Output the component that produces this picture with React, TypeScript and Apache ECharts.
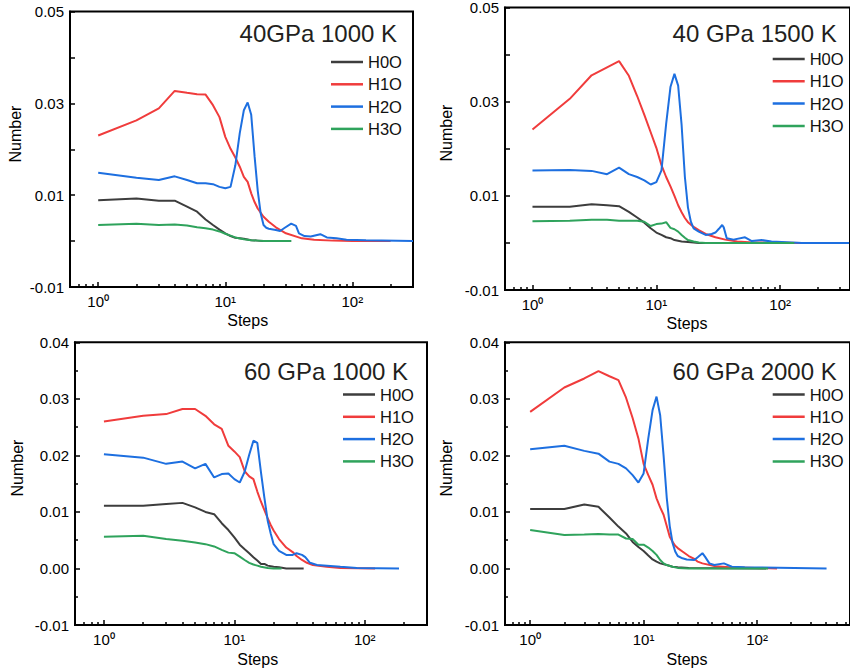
import React, { useEffect, useRef } from 'react';
import * as echarts from 'echarts';

// ---------- data ----------
const SERIES_NAMES = ['H0O', 'H1O', 'H2O', 'H3O'];
const PANEL_TITLES = ['40GPa 1000 K', '40 GPa 1500 K', '60 GPa 1000 K', '60 GPa 2000 K'];

// Panel 1: 40GPa 1000 K
const P1_H0O_STEPS = [1, 2, 3, 4, 5, 6, 7, 8, 9, 10, 11, 12, 14, 16, 18, 20, 25, 33];
const P1_H0O = [0.0089, 0.0093, 0.0088, 0.0088, 0.0075, 0.0064, 0.0047, 0.0035, 0.0025, 0.0017, 0.0011, 0.0007, 0.0005, 0.0002, 0.0001, 0, 0, 0];
const P1_H1O_STEPS = [1, 2, 3, 4, 5, 6, 7, 8, 9, 10, 11, 12, 13, 14, 15, 16, 17, 18, 20, 22, 25, 30, 40, 50, 70, 100, 200];
const P1_H1O = [0.0230, 0.0263, 0.0289, 0.0327, 0.0323, 0.0320, 0.0319, 0.0296, 0.0270, 0.0227, 0.0201, 0.0182, 0.0162, 0.0140, 0.0129, 0.0104, 0.0085, 0.0071, 0.0053, 0.0042, 0.0030, 0.0017, 0.0006, 0.0003, 0.0001, 0, 0];
const P1_H2O_STEPS = [1, 2, 3, 4, 5, 6, 7, 8, 9, 10, 11, 12, 13, 14, 15, 16, 17, 18, 19, 20, 21, 22, 25, 27, 29, 33, 36, 38, 42, 47, 56, 63, 75, 90, 128, 300];
const P1_H2O = [0.0149, 0.0138, 0.0133, 0.0141, 0.0133, 0.0126, 0.0126, 0.0124, 0.0118, 0.0115, 0.0118, 0.0165, 0.0235, 0.0285, 0.0302, 0.0275, 0.0185, 0.0110, 0.0060, 0.0035, 0.0029, 0.0027, 0.0024, 0.0022, 0.0028, 0.0038, 0.0033, 0.0017, 0.0011, 0.0010, 0.0015, 0.0008, 0.0006, 0.0003, 0.0002, 0];
const P1_H3O_STEPS = [1, 2, 3, 4, 5, 6, 7, 8, 9, 10, 11, 12, 14, 16, 18, 20, 25, 33];
const P1_H3O = [0.0035, 0.0038, 0.0035, 0.0036, 0.0034, 0.0030, 0.0028, 0.0025, 0.0021, 0.0016, 0.0012, 0.0008, 0.0004, 0.0002, 0.0001, 0, 0, 0];

// Panel 2: 40 GPa 1500 K
const P2_H0O_STEPS = [1, 2, 3, 4, 5, 6, 7, 8, 9, 10, 11, 12, 13, 14, 16, 18, 20, 22, 30, 60, 130];
const P2_H0O = [0.0077, 0.0077, 0.0082, 0.0080, 0.0078, 0.0066, 0.0054, 0.0043, 0.0031, 0.0022, 0.0017, 0.0012, 0.0010, 0.0006, 0.0003, 0.0002, 0.0001, 0, 0, 0, 0];
const P2_H1O_STEPS = [1, 2, 3, 4, 5, 6, 7, 8, 9, 10, 11, 12, 13, 14, 15, 16, 17, 18, 20, 22, 25, 30, 36, 45, 60, 150];
const P2_H1O = [0.0241, 0.0306, 0.0356, 0.0373, 0.0386, 0.0355, 0.0312, 0.0272, 0.0235, 0.0202, 0.0165, 0.0140, 0.0120, 0.0100, 0.0080, 0.0065, 0.0053, 0.0044, 0.0034, 0.0027, 0.0019, 0.0012, 0.0007, 0.0003, 0.0001, 0];
const P2_H2O_STEPS = [1, 2, 3, 4, 5, 6, 7, 8, 9, 10, 11, 12, 13, 14, 15, 16, 17, 18, 19, 20, 22, 25, 28, 30, 32, 34, 35, 37, 42, 52, 59, 71, 85, 150, 360];
const P2_H2O = [0.0154, 0.0155, 0.0153, 0.0146, 0.0160, 0.0146, 0.0140, 0.0133, 0.0124, 0.0129, 0.0154, 0.0253, 0.0331, 0.0359, 0.0334, 0.0250, 0.0140, 0.0075, 0.0045, 0.0031, 0.0024, 0.0017, 0.0019, 0.0022, 0.0030, 0.0038, 0.0033, 0.0010, 0.0007, 0.0012, 0.0004, 0.0006, 0.0003, 0, 0];
const P2_H3O_STEPS = [1, 2, 3, 4, 5, 6, 7, 8, 9, 10, 11, 12, 13, 14, 15, 16, 17, 18, 20, 22, 25, 40, 80, 130];
const P2_H3O = [0.0046, 0.0047, 0.0049, 0.0049, 0.0047, 0.0047, 0.0047, 0.0045, 0.0036, 0.0040, 0.0041, 0.0044, 0.0032, 0.0029, 0.0024, 0.0017, 0.0011, 0.0006, 0.0003, 0.0001, 0, 0, 0, 0];

// Panel 3: 60 GPa 1000 K
const P3_H0O_STEPS = [1, 2, 3, 4, 5, 6, 7, 8, 9, 10, 11, 12, 13, 14, 15, 16, 17, 18, 20, 22, 25, 34];
const P3_H0O = [0.0111, 0.0111, 0.0114, 0.0116, 0.0108, 0.0100, 0.0096, 0.0080, 0.0068, 0.0055, 0.0042, 0.0034, 0.0027, 0.0020, 0.0014, 0.0008, 0.0008, 0.0005, 0.0003, 0.0002, 0, 0];
const P3_H1O_STEPS = [1, 2, 3, 4, 5, 6, 7, 8, 9, 10, 11, 12, 13, 14, 15, 16, 17, 18, 19, 20, 22, 25, 28, 30, 33, 36, 40, 51, 65, 120];
const P3_H1O = [0.0260, 0.0270, 0.0273, 0.0282, 0.0282, 0.0270, 0.0255, 0.0247, 0.0217, 0.0207, 0.0197, 0.0172, 0.0163, 0.0158, 0.0136, 0.0118, 0.0103, 0.0089, 0.0077, 0.0067, 0.0052, 0.0037, 0.0029, 0.0022, 0.0015, 0.0010, 0.0006, 0.0003, 0.0001, 0];
const P3_H2O_STEPS = [1, 2, 3, 4, 5, 6, 7, 8, 9, 10, 11, 12, 13, 14, 15, 16, 17, 18, 19, 20, 22, 25, 28, 30, 33, 35, 38, 43, 65, 87, 183];
const P3_H2O = [0.0202, 0.0196, 0.0185, 0.0189, 0.0177, 0.0185, 0.0161, 0.0167, 0.0168, 0.0158, 0.0152, 0.0171, 0.0201, 0.0226, 0.0222, 0.0170, 0.0125, 0.0085, 0.0062, 0.0043, 0.0031, 0.0024, 0.0024, 0.0027, 0.0024, 0.0020, 0.0010, 0.0006, 0.0003, 0.0001, 0];
const P3_H3O_STEPS = [1, 2, 3, 4, 5, 6, 7, 8, 9, 10, 11, 12, 13, 14, 15, 16, 18, 20, 23];
const P3_H3O = [0.0056, 0.0058, 0.0052, 0.0049, 0.0046, 0.0043, 0.0039, 0.0033, 0.0028, 0.0027, 0.0021, 0.0015, 0.0010, 0.0007, 0.0005, 0.0003, 0.0001, 0, 0];

// Panel 4: 60 GPa 2000 K
const P4_H0O_STEPS = [1, 2, 3, 4, 5, 6, 7, 8, 9, 10, 11, 12, 13, 14, 16, 18, 20, 25, 120];
const P4_H0O = [0.0105, 0.0105, 0.0113, 0.0109, 0.0090, 0.0074, 0.0062, 0.0047, 0.0038, 0.0031, 0.0023, 0.0016, 0.0012, 0.0009, 0.0006, 0.0003, 0.0002, 0.0001, 0];
const P4_H1O_STEPS = [1, 2, 3, 4, 5, 6, 7, 8, 9, 10, 11, 12, 13, 14, 15, 16, 17, 18, 19, 20, 22, 25, 28, 30, 33, 43, 57, 150];
const P4_H1O = [0.0277, 0.0320, 0.0336, 0.0349, 0.0340, 0.0333, 0.0302, 0.0266, 0.0230, 0.0185, 0.0165, 0.0148, 0.0124, 0.0108, 0.0095, 0.0075, 0.0056, 0.0047, 0.0040, 0.0036, 0.0030, 0.0022, 0.0017, 0.0012, 0.0009, 0.0004, 0.0002, 0];
const P4_H2O_STEPS = [1, 2, 3, 4, 5, 6, 7, 8, 9, 10, 11, 12, 13, 14, 15, 16, 17, 18, 19, 20, 22, 24, 28, 30, 33, 35, 38, 42, 51, 60, 78, 410];
const P4_H2O = [0.0211, 0.0217, 0.0208, 0.0203, 0.0189, 0.0185, 0.0177, 0.0165, 0.0152, 0.0168, 0.0230, 0.0280, 0.0304, 0.0271, 0.0200, 0.0125, 0.0075, 0.0045, 0.0030, 0.0022, 0.0018, 0.0016, 0.0015, 0.0020, 0.0027, 0.0020, 0.0009, 0.0006, 0.0009, 0.0003, 0.0002, 0];
const P4_H3O_STEPS = [1, 2, 3, 4, 5, 6, 7, 8, 9, 10, 11, 12, 13, 14, 15, 16, 18, 20, 25, 125];
const P4_H3O = [0.0068, 0.0059, 0.0060, 0.0061, 0.0060, 0.0060, 0.0053, 0.0052, 0.0042, 0.0042, 0.0037, 0.0031, 0.0024, 0.0015, 0.0009, 0.0006, 0.0003, 0.0001, 0, 0];

// axis ticks
const X_MAJOR_TICKS = [1, 10, 100];
const X_MINOR_TICKS = [0.6, 0.7, 0.8, 0.9, 2, 3, 4, 5, 6, 7, 8, 9, 20, 30, 40, 50, 60, 70, 80, 90, 200, 300, 400, 500, 600, 700, 800, 900];
const X_MIN = 0.6;
const X_MAX = [300, 366, 300, 660];
const Y_MIN = -0.01;
const Y_MAX = [0.05, 0.05, 0.04, 0.04];

const PANEL_DATA = [
  [[P1_H0O_STEPS, P1_H0O], [P1_H1O_STEPS, P1_H1O], [P1_H2O_STEPS, P1_H2O], [P1_H3O_STEPS, P1_H3O]],
  [[P2_H0O_STEPS, P2_H0O], [P2_H1O_STEPS, P2_H1O], [P2_H2O_STEPS, P2_H2O], [P2_H3O_STEPS, P2_H3O]],
  [[P3_H0O_STEPS, P3_H0O], [P3_H1O_STEPS, P3_H1O], [P3_H2O_STEPS, P3_H2O], [P3_H3O_STEPS, P3_H3O]],
  [[P4_H0O_STEPS, P4_H0O], [P4_H1O_STEPS, P4_H1O], [P4_H2O_STEPS, P4_H2O], [P4_H3O_STEPS, P4_H3O]],
];

// ---------- layout & style ----------
const COLORS = ['#3d3d3d', '#f03c3c', '#1d6fe0', '#2fa35c'];
const FONT = '"Liberation Sans", Arial, Helvetica, sans-serif';
const SUP = ['\u2070', '\u00b9', '\u00b2', '\u00b3'];

const LAYOUT = [
  { grid: { left: 70, top: 11.5, width: 343, height: 275.5 }, title: [397, 33], legend: [326, 48.5], number: [15, 134], steps: [247.7, 320] },
  { grid: { left: 505, top: 6.7, width: 347, height: 283.3 }, title: [836.7, 33], legend: [767.7, 45.5], number: [446.7, 133], steps: [687, 323.5] },
  { grid: { left: 75, top: 342.3, width: 352, height: 282.7 }, title: [408, 371.7], legend: [338, 381], number: [17.3, 468], steps: [257.7, 659] },
  { grid: { left: 505, top: 342.3, width: 347, height: 282.7 }, title: [836.7, 371.7], legend: [767.7, 381], number: [446.7, 468], steps: [687, 659] },
];

function buildOption() {
  const grids: any[] = [];
  const xAxes: any[] = [];
  const yAxes: any[] = [];
  const series: any[] = [];
  const legends: any[] = [];
  const graphics: any[] = [];
  const black = { color: '#000', width: 2 };
  const tickStyle = { color: '#000', width: 1.5 };

  LAYOUT.forEach((L, p) => {
    grids.push({ ...L.grid, show: true, borderColor: '#000', borderWidth: 2, containLabel: false });
    const xmin = Math.log10(X_MIN);
    const xmax = Math.log10(X_MAX[p]);
    xAxes.push({
      gridIndex: p, type: 'value', position: 'bottom', min: xmin, max: xmax,
      axisLine: { show: true, onZero: false, lineStyle: black },
      axisTick: { show: true, inside: true, length: 5, lineStyle: tickStyle, customValues: X_MAJOR_TICKS.map((v) => Math.log10(v)) },
      axisLabel: {
        show: true, customValues: X_MAJOR_TICKS.map((v) => Math.log10(v)),
        formatter: (v: number) => '10' + SUP[Math.round(v)],
        fontSize: 15, color: '#000', fontFamily: FONT, margin: 7,
      },
      splitLine: { show: false },
    });
    xAxes.push({
      gridIndex: p, type: 'value', position: 'bottom', min: xmin, max: xmax,
      axisLine: { show: false, onZero: false },
      axisTick: { show: true, inside: true, length: 3, lineStyle: tickStyle, customValues: X_MINOR_TICKS.map((v) => Math.log10(v)) },
      axisLabel: { show: false },
      splitLine: { show: false },
    });
    const everyOther = p < 2;
    yAxes.push({
      gridIndex: p, type: 'value', min: Y_MIN, max: Y_MAX[p], interval: 0.01,
      axisLine: { show: true, onZero: false, lineStyle: black },
      axisTick: { show: true, inside: true, length: 5, lineStyle: tickStyle },
      minorTick: { show: !everyOther, splitNumber: 2, length: 3, lineStyle: tickStyle },
      axisLabel: {
        fontSize: 15, color: '#000', fontFamily: FONT, margin: 6,
        formatter: (v: number) => {
          const k = Math.round(v * 100);
          if (everyOther && Math.abs(k) % 2 === 0) return '';
          return (k / 100).toFixed(2);
        },
      },
      splitLine: { show: false },
    });

    PANEL_DATA[p].forEach(([steps, vals], s) => {
      series.push({
        type: 'line', name: SERIES_NAMES[s], xAxisIndex: p * 2, yAxisIndex: p,
        data: (steps as number[]).map((st, i) => [Math.log10(st), (vals as number[])[i]]),
        symbol: 'none', showSymbol: false, smooth: false,
        lineStyle: { color: COLORS[s], width: 2 }, itemStyle: { color: COLORS[s] },
        silent: true,
      });
    });

    legends.push({
      left: L.legend[0], top: L.legend[1], orient: 'vertical',
      icon: 'rect', itemWidth: 32, itemHeight: 2.5, itemGap: 5.3,
      data: SERIES_NAMES,
      textStyle: { fontSize: 16.5, color: '#111', fontFamily: FONT },
      selectedMode: false,
    });

    graphics.push({
      type: 'text', x: L.title[0], y: L.title[1],
      style: { text: PANEL_TITLES[p], align: 'right', verticalAlign: 'middle', fontSize: 24, fontFamily: FONT, fill: '#231f20' },
    });
    graphics.push({
      type: 'text', x: L.number[0], y: L.number[1], rotation: Math.PI / 2,
      style: { text: 'Number', align: 'center', verticalAlign: 'middle', fontSize: 16, fontFamily: FONT, fill: '#000' },
    });
    graphics.push({
      type: 'text', x: L.steps[0], y: L.steps[1],
      style: { text: 'Steps', align: 'center', verticalAlign: 'middle', fontSize: 16, fontFamily: FONT, fill: '#000' },
    });
  });

  return {
    animation: false,
    backgroundColor: '#fff',
    grid: grids,
    xAxis: xAxes,
    yAxis: yAxes,
    series,
    legend: legends,
    graphic: graphics,
  };
}

export default function App() {
  const ref = useRef<HTMLDivElement>(null);
  useEffect(() => {
    if (!ref.current) return;
    const chart = echarts.init(ref.current, null, { renderer: 'svg' });
    chart.setOption(buildOption() as any);
    return () => chart.dispose();
  }, []);
  return (
    <div
      ref={ref}
      style={{ position: 'fixed', left: 0, top: 0, width: 850, height: 671, background: '#fff' }}
    />
  );
}
